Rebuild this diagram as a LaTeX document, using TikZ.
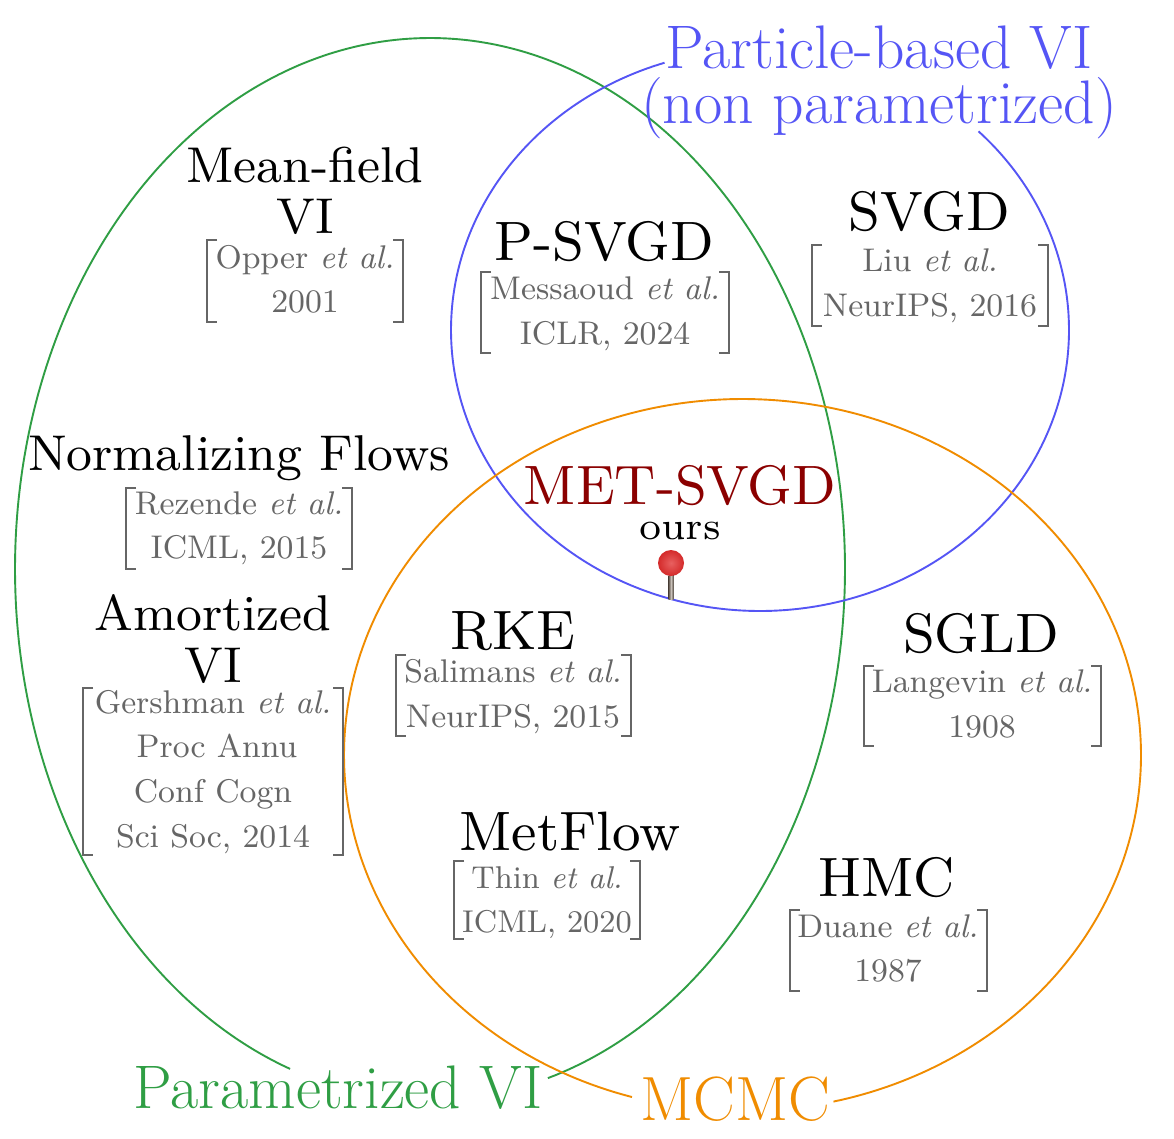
\documentclass[tikz,border=0pt]{standalone}
\usepackage{fontspec}
\newfontfamily\lmseven{lmroman7-regular.otf}
\newfontfamily\lmnine[ItalicFont=lmroman9-italic.otf]{lmroman9-regular.otf}
\definecolor{vigreen}{HTML}{2F9E44}
\definecolor{viblue}{HTML}{5555F5}
\definecolor{vorange}{HTML}{F08C00}
\definecolor{cite}{HTML}{666666}
\definecolor{metred}{HTML}{8B0000}
\definecolor{pinin}{HTML}{E86060}
\definecolor{pinout}{HTML}{D42A2A}
\definecolor{pinsteel}{HTML}{5A5048}
\definecolor{pinlight}{HTML}{C8C0B8}
\tikzset{
  ttl/.style={inner sep=0pt,anchor=base,font=\lmnine\fontsize{55.5}{60}\selectfont},
  ttls/.style={inner sep=0pt,anchor=base,font=\lmnine\fontsize{50.3}{56}\selectfont},
  src/.style={inner sep=0pt,anchor=base,text=cite,font=\lmnine\fontsize{32.8}{38}\selectfont},
  srcs/.style={src,font=\lmnine\fontsize{31.5}{36}\selectfont},
  big/.style={inner sep=0pt,anchor=base,font=\fontsize{61.5}{66}\selectfont},
  curve/.style={line width=1.9pt},
  brk/.style={draw=cite,line width=1.9pt},
}
\newcommand{\brackets}[5][brk]{%
  \draw[#1] (#2+10,#4) -- (#2,#4) -- (#2,#5) -- (#2+10,#5);
  \draw[#1] (#3-10,#4) -- (#3,#4) -- (#3,#5) -- (#3-10,#5);}
\begin{document}
\begin{tikzpicture}[x=1pt,y=-1pt]
\useasboundingbox (0,0) rectangle (1174,1138);
\fill[white] (0,0) rectangle (1174,1138);
\draw[curve,vigreen] plot[domain=-73.5:250.3,samples=240,smooth] ({430+415*cos(\x)},{569-531*sin(\x)});
\draw[curve,viblue] plot[domain=108:405,samples=240,smooth] ({760+309*cos(\x)},{330-281*sin(\x)});
\draw[curve,vorange] plot[domain=-76.8:253.9,samples=240,smooth] ({742.5+398.5*cos(\x)},{755-356*sin(\x)});

\node[big,text=viblue] (pb) at (879,68) {Particle-based VI};
\node[big,text=viblue] (np) at (879,123) {(non parametrized)};
\node[big,text=vigreen] (pv) at (338,1108) {Parametrized VI};
\node[big,text=vorange,font=\fontsize{62.5}{68}\selectfont] (mc) at (735,1120) {MCMC};

\node[ttls] (mf1) at (305,182) {Mean-field};
\node[ttls] (mf2) at (305,233) {VI};
\node[src] (mf3) at (305,268) {Opper \textit{et al.}};
\node[src] (mf4) at (305,312) {2001};
\brackets{207}{403}{240}{322}

\node[ttl] (ps1) at (604,260) {P-SVGD};
\node[src] (ps2) at (605,299) {Messaoud \textit{et al.}};
\node[src] (ps3) at (605,344) {ICLR, 2024};
\brackets{481}{729}{272}{353}

\node[ttl] (sv1) at (929,230) {SVGD};
\node[src] (sv2) at (930,271) {Liu \textit{et al.}};
\node[src] (sv3) at (930,316) {NeurIPS, 2016};
\brackets{812}{1048}{245}{326}

\node[ttls] (nf1) at (239,470) {Normalizing Flows};
\node[src] (nf2) at (239,514) {Rezende \textit{et al.}};
\node[src] (nf3) at (239,558) {ICML, 2015};
\brackets{126}{352}{488}{569}

\node[ttls] (am1) at (213,630) {Amortized};
\node[ttls] (am2) at (213,682) {VI};
\node[src] (am3) at (213,713) {Gershman \textit{et al.}};
\node[src] (am4) at (217,757) {Proc Annu};
\node[src] (am5) at (213,802) {Conf Cogn};
\node[src] (am6) at (213,847) {Sci Soc, 2014};
\brackets[brk,line width=2.8pt]{83}{343}{688}{855}

\node[ttl] (rk1) at (513,649) {RKE};
\node[src] (rk2) at (513,682) {Salimans \textit{et al.}};
\node[src] (rk3) at (513,727) {NeurIPS, 2015};
\brackets{396}{631}{655}{736}

\node[ttl] (sg1) at (981,652) {SGLD};
\node[src] (sg2) at (982,692) {Langevin \textit{et al.}};
\node[src] (sg3) at (982,737) {1908};
\brackets{864}{1101}{666}{746}

\node[ttl] (mt1) at (570,850) {MetFlow};
\node[srcs] (mt2) at (547,888) {Thin \textit{et al.}};
\node[srcs] (mt3) at (547,932) {ICML, 2020};
\brackets{454}{640}{861}{939}

\node[ttl] (hm1) at (887,896) {HMC};
\node[src] (hm2) at (888,937) {Duane \textit{et al.}};
\node[src] (hm3) at (888,981) {1987};
\brackets{790}{987}{910}{991}

\node[ttl,text=metred] (met) at (680,504) {MET-SVGD};
\node[ttl,font=\lmseven\fontsize{39}{44}\selectfont] (ours) at (680,539) {ours};

\fill[left color=pinsteel,right color=pinsteel,middle color=pinlight] (668.5,575) rectangle (673.5,599);
\shade[inner color=pinin,outer color=pinout] (671,563) circle (13);
\end{tikzpicture}
\end{document}
